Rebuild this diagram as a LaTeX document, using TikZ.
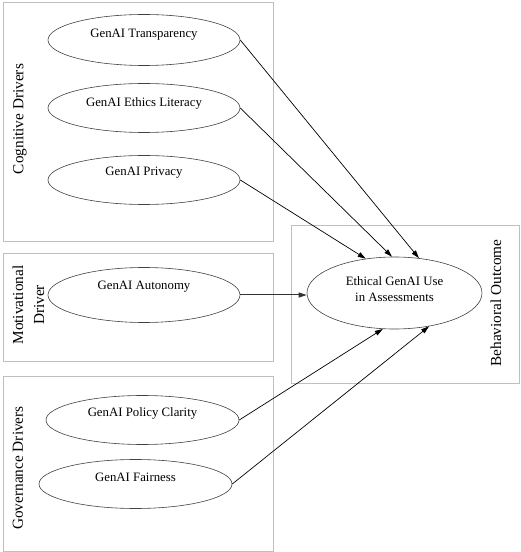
\documentclass[tikz,border=0pt]{standalone}
\usepackage{fontspec}
\setmainfont{Liberation Serif}
\usetikzlibrary{shapes.geometric,arrows.meta}
\begin{document}
\begin{tikzpicture}[x=1pt,y=1pt,
  grpbox/.style={draw=black!25, line width=0.6pt},
  construct/.style={draw=black!75, line width=0.6pt, ellipse, inner sep=0pt, minimum width=192pt, minimum height=49pt},
  ctext/.style={inner sep=0pt, font=\fontsize{12.8}{16}\selectfont},
  sidelabel/.style={inner sep=0pt, rotate=90, align=center, font=\fontsize{15.3}{21}\selectfont},
  path/.style={draw=black, line width=0.7pt, -{Triangle[length=8pt,width=5pt]}}
]
\useasboundingbox (0,0) rectangle (520,552);
% group boxes
\draw[grpbox] (3,311) rectangle (273,550);
\draw[grpbox] (3,191) rectangle (273,299);
\draw[grpbox] (3,1) rectangle (273,176);
\draw[grpbox] (291,169) rectangle (519,327);
% side labels
\node[sidelabel] (lc) at (20,433) {Cognitive Drivers};
\node[sidelabel] (lm) at (28.5,247) {Motivational\\Driver};
\node[sidelabel] (lg) at (18,84) {Governance Drivers};
\node[sidelabel] (lb) at (496,249) {Behavioral Outcome};
% constructs
\node[construct, minimum height=51pt] (T) at (144,512) {};
\node[ctext] (Tt) at ([yshift=5pt]T.center) {GenAI Transparency};
\node[construct] (L) at (144,444) {};
\node[ctext] (Lt) at ([yshift=5pt]L.center) {GenAI Ethics Literacy};
\node[construct] (P) at (144,372) {};
\node[ctext] (Pt) at ([yshift=7pt]P.center) {GenAI Privacy};
\node[construct, minimum height=55pt] (A) at (144,257) {};
\node[ctext] (At) at ([yshift=8pt]A.center) {GenAI Autonomy};
\node[construct, minimum width=193pt] (C) at (142.5,132) {};
\node[ctext] (Ct) at ([yshift=7pt]C.center) {GenAI Policy Clarity};
\node[construct, minimum width=193pt] (F) at (135.5,68) {};
\node[ctext] (Ft) at ([yshift=7pt]F.center) {GenAI Fairness};
\node[construct, minimum width=175pt, minimum height=72pt] (O) at (394.5,259) {};
\node[ctext, align=center] (Ot) at ([yshift=4pt]O.center) {Ethical GenAI Use\\in Assessments};
% paths
\draw[path] (T.east) -- (O.55.6);
\draw[path] (L.east) -- (O.94.9);
\draw[path] (P.east) -- (O.130.6);
\draw[path, draw=black!80, line width=1pt] (A.east) -- (A.east -| O.west);
\draw[path] (C.east) -- (O.-108);
\draw[path] (F.east) -- (O.-44);
\end{tikzpicture}
\end{document}
